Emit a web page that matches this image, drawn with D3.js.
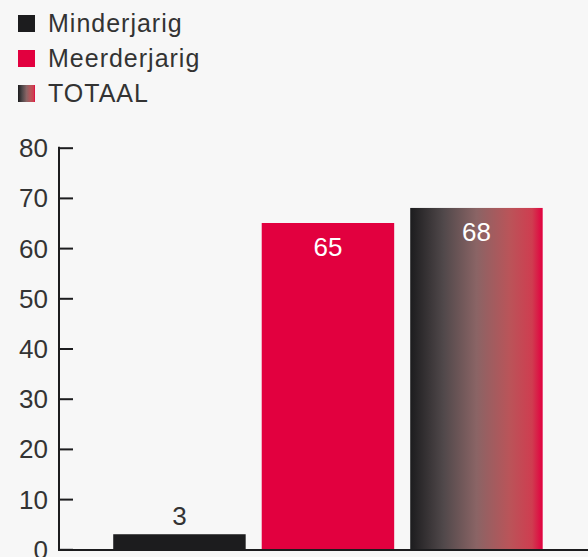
<!DOCTYPE html>
<html>
<head>
<meta charset="utf-8">
<script src="https://cdn.jsdelivr.net/npm/d3@7"></script>
<style>
  html, body { margin: 0; padding: 0; background: #f7f7f7; }
  svg { display: block; }
  text { font-family: "Liberation Sans", Arial, sans-serif; }
</style>
</head>
<body>
<svg id="chart" width="588" height="557"></svg>
<script>
const categories = ["Minderjarig", "Meerderjarig", "TOTAAL"];
const values = [3, 65, 68];
const yTicks = [0, 10, 20, 30, 40, 50, 60, 70, 80];
const colors = ["#1c1c1e", "#e2003f", "url(#totGrad)"];

const svg = d3.select("#chart");
const W = 588, H = 557;

svg.append("rect").attr("width", W).attr("height", H).attr("fill", "#f7f7f7");

const defs = svg.append("defs");
const grad = defs.append("linearGradient").attr("id", "totGrad")
  .attr("x1", "0%").attr("x2", "100%").attr("y1", "0%").attr("y2", "0%");
[[0, "#1c1c1e"], [0.25, "#50484a"], [0.5, "#8a6465"], [0.75, "#ba5459"], [0.92, "#cf3d50"], [1, "#e2003f"]]
  .forEach(([o, c]) => grad.append("stop").attr("offset", o).attr("stop-color", c));

const y = d3.scaleLinear().domain([0, 80]).range([549.3, 147.7]);
const x = d3.scaleBand().domain(categories).range([105.2, 550.7])
  .paddingInner(0.108).paddingOuter(0.054);

// bars
svg.append("g").selectAll("rect").data(categories).join("rect")
  .attr("x", d => x(d))
  .attr("width", x.bandwidth())
  .attr("y", (d, i) => y(values[i]))
  .attr("height", (d, i) => y(0) - y(values[i]))
  .attr("fill", (d, i) => colors[i]);

// baseline
svg.append("line").attr("x1", 59).attr("x2", W).attr("y1", y(0) + 0.7).attr("y2", y(0) + 0.7)
  .attr("stroke", "#1c1c1e").attr("stroke-width", 2);

// y axis
const yAxis = d3.axisRight(y).tickValues(yTicks).tickSize(14).tickFormat("");
const gy = svg.append("g").attr("transform", "translate(59,0)").call(yAxis);
gy.select(".domain").remove();
gy.selectAll(".tick line").attr("stroke", "#1c1c1e").attr("stroke-width", 2);
svg.append("line").attr("x1", 59).attr("x2", 59).attr("y1", y(80) - 1).attr("y2", y(0) + 1.7)
  .attr("stroke", "#1c1c1e").attr("stroke-width", 2);

// tick labels
svg.append("g").selectAll("text").data(yTicks).join("text")
  .attr("x", 48).attr("y", d => y(d) + 9.5)
  .attr("text-anchor", "end")
  .attr("font-size", 26).attr("fill", "#333333")
  .text(d => d);

// value labels
svg.append("g").selectAll("text").data(categories).join("text")
  .attr("x", d => x(d) + x.bandwidth() / 2)
  .attr("y", (d, i) => values[i] < 10 ? y(values[i]) - 9 : y(values[i]) + 33)
  .attr("text-anchor", "middle")
  .attr("font-size", 26)
  .attr("fill", (d, i) => values[i] < 10 ? "#333333" : "#ffffff")
  .text((d, i) => values[i]);

// legend
const leg = svg.append("g").selectAll("g").data(categories).join("g")
  .attr("transform", (d, i) => `translate(18,${15 + i * 35})`);
leg.append("rect").attr("width", 17).attr("height", 17)
  .attr("fill", (d, i) => colors[i]);
leg.append("text").attr("x", 30).attr("y", 16.5)
  .attr("font-size", 25).attr("fill", "#333333")
  .attr("letter-spacing", 1)
  .text(d => d);
</script>
</body>
</html>
